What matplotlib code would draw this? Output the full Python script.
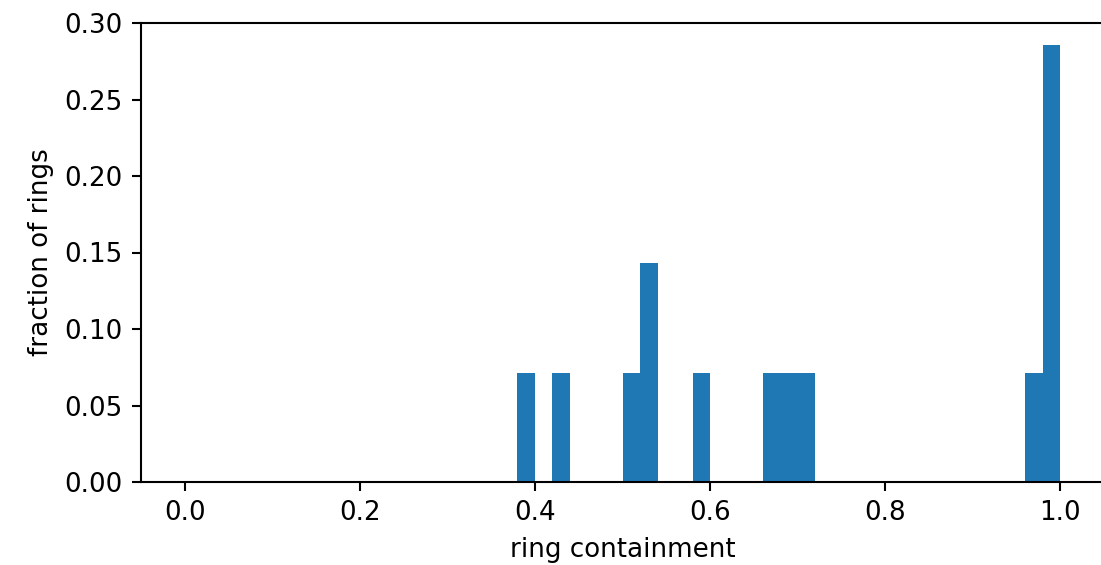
import numpy as np
import matplotlib
matplotlib.use("Agg")
import matplotlib.pyplot as plt

# bin edges (0 to 1, 50 bins) and counts per bin among 14 rings
bin_edges = np.linspace(0, 1, 51)
bin_left = [0.38, 0.42, 0.50, 0.52, 0.58, 0.66, 0.68, 0.70, 0.96, 0.98]
bin_counts = [1, 1, 1, 2, 1, 1, 1, 1, 1, 4]
total_rings = 14

centers = np.array(bin_left) + 0.01
fractions = np.array(bin_counts) / total_rings

W, H, DPI = 1101, 565, 188
fig = plt.figure(figsize=(W / DPI, H / DPI), dpi=DPI)
ax = fig.add_axes([141 / W, 1 - 482 / H, (1104 - 141) / W, (482 - 23) / H])
ax.hist(centers, bins=bin_edges, weights=fractions, color="#1f77b4")
ax.set_xlim(-0.05, 1.05)
ax.set_ylim(0, 0.30)
ax.set_yticks([0, 0.05, 0.10, 0.15, 0.20, 0.25, 0.30])
ax.set_xlabel("ring containment")
ax.set_ylabel("fraction of rings")
ax.spines["right"].set_visible(False)
fig.savefig("out.png", dpi=DPI)
